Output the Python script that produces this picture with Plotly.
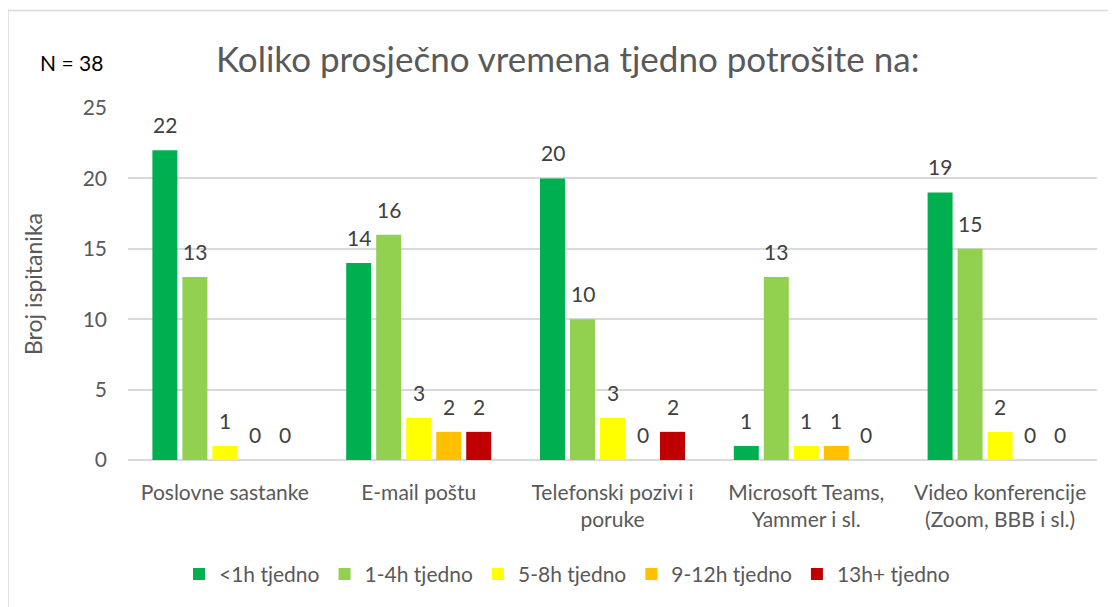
import plotly.graph_objects as go

categories = ["Poslovne sastanke", "E-mail poštu", "Telefonski pozivi i<br>poruke",
              "Microsoft Teams,<br>Yammer i sl.", "Video konferencije<br>(Zoom, BBB i sl.)"]
series_names = ["<1h tjedno", "1-4h tjedno", "5-8h tjedno", "9-12h tjedno", "13h+ tjedno"]
lt1h = [22, 14, 20, 1, 19]
h1_4 = [13, 16, 10, 13, 15]
h5_8 = [1, 3, 3, 1, 2]
h9_12 = [0, 2, 0, 1, 0]
h13p = [0, 2, 2, 0, 0]
colors = ["#00B050", "#92D050", "#FFFF00", "#FFC000", "#C00000"]

FONT = "Lato"
BARGAP = 0.226
all_series = [lt1h, h1_4, h5_8, h9_12, h13p]
n_series = len(all_series)

fig = go.Figure()
for name, vals, col in zip(series_names, all_series, colors):
    fig.add_trace(go.Bar(
        x=categories, y=vals, name=name,
        marker=dict(color=col, line=dict(width=0)),
        cliponaxis=False,
    ))

OFF = 8  # page body margin
W, H = 1116 - OFF, 607 - OFF
L, T = 128 - OFF, 108 - OFF
pw, ph = 969, 354
R = W - L - pw
B = H - T - ph

def px(sx):
    return (sx - 128) / pw

def py(sy):
    return (462 - sy) / ph

# data labels positioned over bar centres (category index + group offset)
slot = (1 - BARGAP) / n_series
label_anns = []
for j, vals in enumerate(all_series):
    for i, v in enumerate(vals):
        label_anns.append(dict(
            text=str(v), xref="x", yref="y",
            x=i + (j - (n_series - 1) / 2) * slot, y=v,
            xanchor="center", yanchor="bottom", yshift=11, showarrow=False,
            font=dict(size=21, color="#404040", family=FONT)))

fig.update_layout(
    width=W, height=H,
    margin=dict(l=L, r=R, t=T, b=B, pad=0),
    paper_bgcolor="white", plot_bgcolor="white",
    barmode="group", bargap=BARGAP, bargroupgap=0.167,
    font=dict(family=FONT, color="#595959", size=21),
    showlegend=True,
    legend=dict(orientation="h", x=px(567), xanchor="center",
                y=py(577), yanchor="middle",
                font=dict(size=21, color="#595959", family=FONT),
                itemwidth=30, traceorder="normal"),
    xaxis=dict(showgrid=False, showline=False, ticks="", ticklabelstandoff=18,
               tickfont=dict(size=21, color="#595959", family=FONT)),
    yaxis=dict(range=[0, 25], dtick=5, showgrid=True, gridcolor="#D9D9D9", gridwidth=1.5,
               zeroline=True, zerolinecolor="#D9D9D9", zerolinewidth=1.5,
               showline=False, ticks="", ticklabelstandoff=20,
               tickfont=dict(size=21, color="#595959", family=FONT)),
    annotations=label_anns + [
        dict(text="Koliko prosječno vremena tjedno potrošite na:", xref="paper", yref="paper",
             x=px(567), y=py(58), xanchor="center", yanchor="middle",
             showarrow=False, font=dict(size=35, color="#595959", family=FONT)),
        dict(text="N = 38", xref="paper", yref="paper",
             x=px(71), y=py(62), xanchor="center", yanchor="middle",
             showarrow=False, font=dict(size=21, color="black", family=FONT)),
        dict(text="Broj ispitanika", xref="paper", yref="paper",
             x=px(33), y=py(285), xanchor="center", yanchor="middle",
             textangle=-90, showarrow=False, font=dict(size=23, color="#595959", family=FONT)),
    ],
    shapes=[
        dict(type="line", xref="paper", yref="paper",
             x0=px(8), x1=px(1130), y0=py(10), y1=py(10),
             line=dict(color="#D9D9D9", width=1.5)),
        dict(type="line", xref="paper", yref="paper",
             x0=px(8), x1=px(8), y0=py(10), y1=py(620),
             line=dict(color="#D9D9D9", width=1.5)),
    ],
)

fig.write_html("out.html")
